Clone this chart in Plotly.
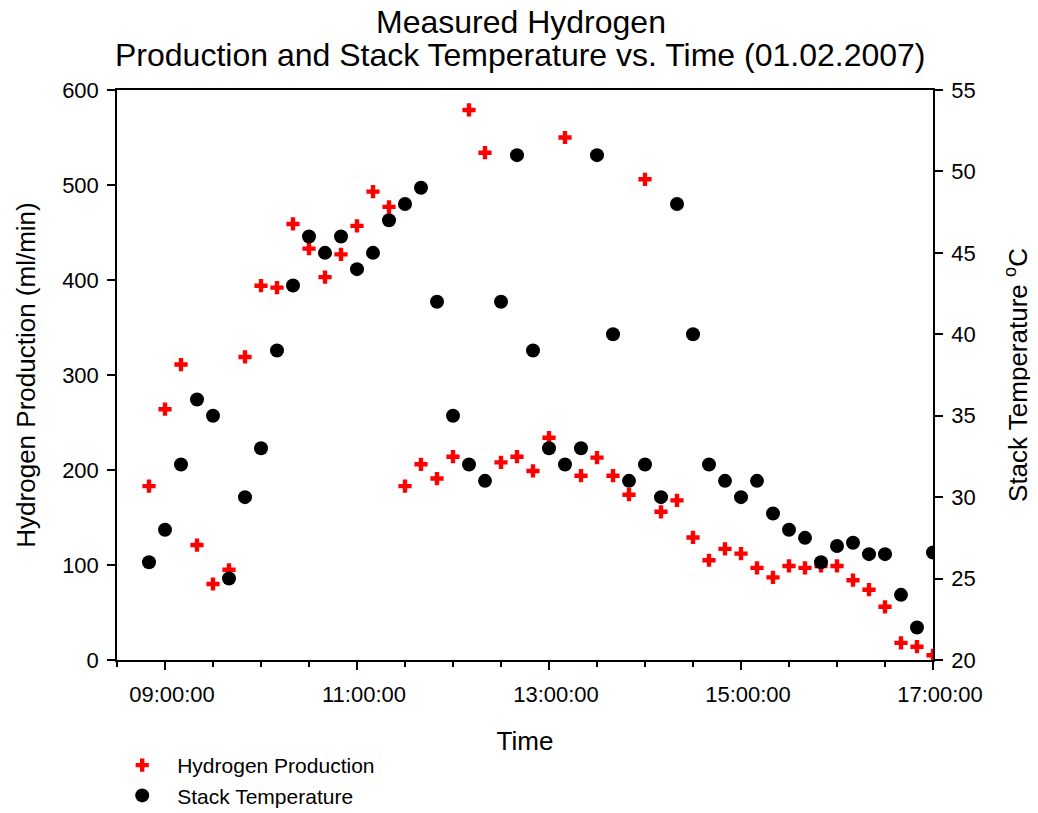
import plotly.graph_objects as go

times = [
    "08:50", "09:00", "09:10", "09:20", "09:30", "09:40", "09:50",
    "10:00", "10:10", "10:20", "10:30", "10:40", "10:50",
    "11:00", "11:10", "11:20", "11:30", "11:40", "11:50",
    "12:00", "12:10", "12:20", "12:30", "12:40", "12:50",
    "13:00", "13:10", "13:20", "13:30", "13:40", "13:50",
    "14:00", "14:10", "14:20", "14:30", "14:40", "14:50",
    "15:00", "15:10", "15:20", "15:30", "15:40", "15:50",
    "16:00", "16:10", "16:20", "16:30", "16:40", "16:50",
    "17:00",
]

hydrogen = [
    183, 264, 311, 121, 80, 95, 319,
    394, 392, 459, 433, 403, 427,
    457, 493, 477, 183, 206, 191,
    214, 579, 534, 208, 214, 199,
    234, 550, 194, 213, 194, 174,
    506, 156, 168, 129, 105, 117,
    112, 97, 87, 99, 97, 99,
    99, 84, 74, 56, 18, 14,
    5,
]

temperature = [
    26, 28, 32, 36, 35, 25, 30,
    33, 39, 43, 46, 45, 46,
    44, 45, 47, 48, 49, 42,
    35, 32, 31, 42, 51, 39,
    33, 32, 33, 51, 40, 31,
    32, 30, 48, 40, 32, 31,
    30, 31, 29, 28, 27.5, 26,
    27, 27.2, 26.5, 26.5, 24, 22,
    26.6,
]

title_lines = [
    "Measured Hydrogen",
    "Production and Stack Temperature vs. Time (01.02.2007)",
]

date = "2007-02-01"
x = [f"{date} {t}:00" for t in times]

FONT = "Liberation Sans, Arial, sans-serif"

fig = go.Figure()
fig.add_trace(go.Scatter(
    x=x, y=hydrogen, mode="markers", name="Hydrogen Production",
    marker=dict(symbol="cross", size=11, color="#ff0000", line=dict(width=0)),
    yaxis="y",
))
fig.add_trace(go.Scatter(
    x=x, y=temperature, mode="markers", name="Stack Temperature",
    marker=dict(symbol="circle", size=14, color="#000000", line=dict(width=0)),
    yaxis="y2",
))

fig.update_layout(
    width=1030, height=805,
    paper_bgcolor="white", plot_bgcolor="white",
    font=dict(family=FONT, size=22, color="black"),
    margin=dict(l=109, r=105, t=82, b=153, autoexpand=False),
    annotations=[
        dict(text=title_lines[0], xref="paper", yref="paper", x=0.495, y=1.12,
             xanchor="center", yanchor="middle", showarrow=False,
             font=dict(family=FONT, size=32, color="black")),
        dict(text=title_lines[1], xref="paper", yref="paper", x=0.495, y=1.0614,
             xanchor="center", yanchor="middle", showarrow=False,
             font=dict(family=FONT, size=32, color="black")),
    ],
    xaxis=dict(
        type="date",
        range=[f"{date} 08:30:00", f"{date} 17:00:00"],
        tick0=f"{date} 09:00:00", dtick=7200000,
        tickformat="%H:%M:%S",
        ticks="outside", ticklen=8, tickwidth=1.5, tickcolor="black",
        minor=dict(dtick=1800000, ticks="outside", ticklen=5, tickwidth=1.5, tickcolor="black", showgrid=False),
        showline=True, linecolor="black", linewidth=1.5, mirror=True,
        showgrid=False, zeroline=False,
        tickfont=dict(size=22),
        ticklabelstandoff=6, ticklabelshift=7,
        title=dict(text="Time", font=dict(size=26), standoff=26),
    ),
    yaxis=dict(
        range=[0, 600], dtick=100,
        ticks="outside", ticklen=8, tickwidth=1.5, tickcolor="black",
        showline=True, linecolor="black", linewidth=1.5,
        showgrid=False, zeroline=False,
        tickfont=dict(size=22),
        ticklabelstandoff=4,
        title=dict(text="Hydrogen Production (ml/min)", font=dict(size=26), standoff=19),
    ),
    yaxis2=dict(
        range=[20, 55], dtick=5,
        overlaying="y", side="right",
        ticks="outside", ticklen=8, tickwidth=1.5, tickcolor="black",
        showline=True, linecolor="black", linewidth=1.5,
        showgrid=False, zeroline=False,
        tickfont=dict(size=22),
        ticklabelstandoff=4,
        title=dict(text="Stack Temperature <sup>o</sup>C", font=dict(size=26), standoff=34),
    ),
    showlegend=True,
    legend=dict(
        x=-0.012, xanchor="left", y=-0.149, yanchor="top",
        orientation="v", bgcolor="rgba(0,0,0,0)", borderwidth=0,
        font=dict(size=21), itemwidth=60, tracegroupgap=0,
    ),
)

fig.write_html("out.html")
